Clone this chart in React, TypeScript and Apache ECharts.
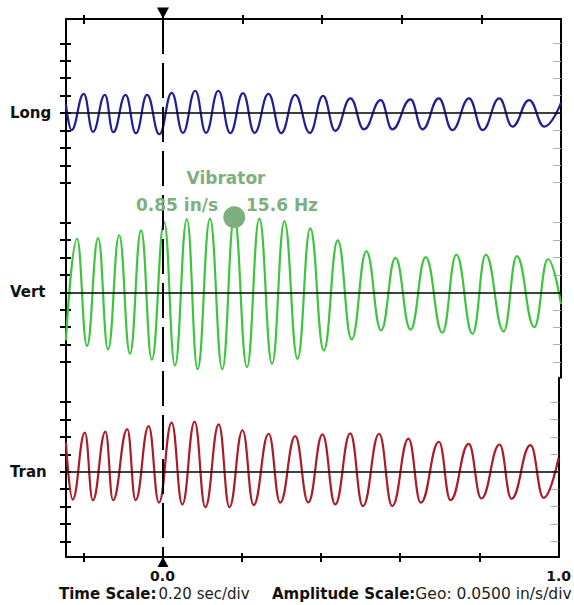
import React, { useEffect, useRef } from "react";
import * as echarts from "echarts";

// ---- data ----
const channelNames = ["Long", "Vert", "Tran"];
const channelColors = ["#1f1f96", "#3ec43e", "#aa1c28"];

const longTimes = [-0.244, -0.23, -0.199, -0.176, -0.146, -0.125, -0.094, -0.068, -0.04, -0.009, 0.022, 0.05, 0.081, 0.108, 0.139, 0.169, 0.201, 0.23, 0.265, 0.297, 0.332, 0.369, 0.402, 0.433, 0.471, 0.505, 0.547, 0.576, 0.622, 0.652, 0.693, 0.727, 0.769, 0.803, 0.845, 0.878, 0.92, 0.958, 1.0];
const longValues = [0.026, -0.049, 0.055, -0.054, 0.052, -0.055, 0.052, -0.058, 0.052, -0.061, 0.058, -0.057, 0.064, -0.057, 0.064, -0.058, 0.057, -0.057, 0.055, -0.058, 0.052, -0.057, 0.049, -0.051, 0.042, -0.047, 0.037, -0.047, 0.039, -0.047, 0.042, -0.049, 0.042, -0.049, 0.042, -0.039, 0.037, -0.039, 0.029];

const vertTimes = [-0.244, -0.216, -0.191, -0.163, -0.138, -0.11, -0.083, -0.055, -0.028, 0.003, 0.03, 0.06, 0.087, 0.118, 0.149, 0.179, 0.211, 0.242, 0.274, 0.305, 0.338, 0.37, 0.404, 0.439, 0.474, 0.511, 0.548, 0.584, 0.622, 0.66, 0.702, 0.737, 0.778, 0.811, 0.856, 0.889, 0.933, 0.967, 1.0];
const vertValues = [-0.138, 0.154, -0.154, 0.156, -0.164, 0.164, -0.176, 0.178, -0.193, 0.202, -0.21, 0.21, -0.221, 0.212, -0.221, 0.216, -0.215, 0.212, -0.205, 0.204, -0.191, 0.184, -0.167, 0.149, -0.135, 0.118, -0.109, 0.099, -0.107, 0.101, -0.116, 0.108, -0.119, 0.108, -0.112, 0.104, -0.1, 0.095, -0.034];

const tranTimes = [-0.244, -0.227, -0.196, -0.176, -0.144, -0.125, -0.089, -0.068, -0.035, -0.009, 0.023, 0.05, 0.081, 0.108, 0.142, 0.169, 0.202, 0.23, 0.268, 0.297, 0.335, 0.368, 0.404, 0.436, 0.474, 0.506, 0.547, 0.58, 0.621, 0.652, 0.698, 0.727, 0.773, 0.805, 0.851, 0.881, 0.929, 0.962, 1.0];
const tranValues = [0.084, -0.08, 0.112, -0.082, 0.115, -0.082, 0.122, -0.082, 0.131, -0.089, 0.141, -0.094, 0.144, -0.102, 0.136, -0.102, 0.119, -0.096, 0.109, -0.089, 0.102, -0.088, 0.107, -0.094, 0.11, -0.099, 0.109, -0.099, 0.095, -0.089, 0.086, -0.082, 0.08, -0.077, 0.078, -0.078, 0.076, -0.075, 0.04];

const ampTicks = [-0.2, -0.15, -0.1, -0.05, 0, 0.05, 0.1, 0.15, 0.2];
const timeTicks = [-0.2, 0, 0.2, 0.4, 0.6, 0.8];
const timeLabels = [0, 1];
const triggerTime = 0;
const vibratorPoint = [0.179, 0.2155];
const vibratorTitle = "Vibrator";
const vibratorAmp = "0.85 in/s";
const vibratorFreq = "15.6 Hz";
const timeScaleText = "0.20 sec/div";
const ampScaleText = "Geo: 0.0500 in/s/div";

// ---- layout ----
const timeMin = -0.2437;
const timeMax = 1.0;
const ampMin = -0.245;
const ampMax = 0.27;
const plotLeft = 66;
const plotTop = 19;
const plotWidth = 495;
const bandH = 538 / 3;
const FONT = "DejaVu Sans";
const GREEN_NOTE = "#7db07d";

function zip(t: number[], v: number[]) {
  return t.map((x, i) => [x, v[i]]);
}

function buildOption() {
  const grids: any[] = [];
  for (let i = 0; i < 3; i++) {
    grids.push({ left: plotLeft, top: plotTop + i * bandH, width: plotWidth, height: bandH, containLabel: false });
  }
  grids.push({ left: plotLeft, top: plotTop, width: plotWidth, height: bandH * 3 });

  const line = (show: boolean) => ({ show, onZero: false, lineStyle: { color: "#000", width: 2 } });
  const baseX = { type: "value", min: timeMin, max: timeMax, splitLine: { show: false } };
  const xAxis: any[] = [
    { ...baseX, gridIndex: 0, position: "top",
      axisLine: line(true),
      axisTick: { show: true, customValues: timeTicks, length: 4, lineStyle: { color: "#000", width: 2 } },
      axisLabel: { show: false } },
    { ...baseX, gridIndex: 0, position: "top",
      axisLine: line(false),
      axisTick: { show: true, inside: true, customValues: timeTicks, length: 5, lineStyle: { color: "#000", width: 2 } },
      axisLabel: { show: false } },
    { ...baseX, gridIndex: 1, show: false, axisLine: line(false) },
    { ...baseX, gridIndex: 2, position: "bottom",
      axisLine: line(true),
      axisTick: { show: true, customValues: timeTicks, length: 5, lineStyle: { color: "#000", width: 2 } },
      axisLabel: { show: true, customValues: timeLabels, formatter: (v: number) => v.toFixed(1),
        fontFamily: FONT, fontWeight: "bold", fontSize: 14, color: "#111", margin: 12, hideOverlap: false } },
    { ...baseX, gridIndex: 2, position: "bottom",
      axisLine: line(false),
      axisTick: { show: true, inside: true, customValues: timeTicks, length: 4, lineStyle: { color: "#000", width: 2 } },
      axisLabel: { show: false } },
    { ...baseX, gridIndex: 3, show: false, axisLine: line(false) },
  ];

  const yAxis: any[] = [];
  for (let i = 0; i < 3; i++) {
    const baseY = { type: "value", gridIndex: i, min: ampMin, max: ampMax, splitLine: { show: false } };
    yAxis.push({ ...baseY, position: "left",
      axisLine: line(true),
      axisTick: { show: true, customValues: ampTicks, length: 6, lineStyle: { color: "#000", width: 2 } },
      axisLabel: { show: true, customValues: [0], formatter: () => channelNames[i], align: "left", margin: 56,
        fontFamily: FONT, fontWeight: "bold", fontSize: 15, color: "#111" } });
    yAxis.push({ ...baseY, position: "left",
      axisLine: line(false),
      axisTick: { show: true, inside: true, customValues: ampTicks, length: 5, lineStyle: { color: "#000", width: 2 } },
      axisLabel: { show: false } });
    yAxis.push({ ...baseY, position: "right",
      axisLine: line(true),
      axisTick: { show: true, inside: true, customValues: ampTicks, length: 8, lineStyle: { color: "#b0b0b0", width: 1 } },
      axisLabel: { show: false } });
  }
  yAxis.push({ type: "value", gridIndex: 3, min: 0, max: 1, show: false, axisLine: line(false) });

  const traces = [zip(longTimes, longValues), zip(vertTimes, vertValues), zip(tranTimes, tranValues)];
  const traceX = [0, 2, 3];
  const series: any[] = traces.map((data, i) => ({
    type: "line",
    name: channelNames[i],
    xAxisIndex: traceX[i],
    yAxisIndex: i * 3,
    data,
    smooth: 0.45,
    smoothMonotone: "x",
    showSymbol: false,
    symbol: "none",
    lineStyle: { color: channelColors[i], width: 2.2 },
    z: 2,
    markLine: {
      silent: true,
      symbol: "none",
      label: { show: false },
      lineStyle: { color: "#000", width: 1.5, type: "solid" },
      data: [{ yAxis: 0 }],
    },
  }));

  series.push({
    type: "line",
    xAxisIndex: 5,
    yAxisIndex: 9,
    data: [[triggerTime, 1], [triggerTime, 0]],
    showSymbol: false,
    symbol: "none",
    lineStyle: { color: "#000", width: 2, type: [35, 9] },
    z: 4,
  });
  series.push({
    type: "scatter",
    xAxisIndex: 5,
    yAxisIndex: 9,
    clip: false,
    symbol: "triangle",
    itemStyle: { color: "#000", opacity: 1 },
    z: 5,
    data: [
      { value: [triggerTime, 1], symbolRotate: 180, symbolSize: [12, 11], symbolOffset: [0, -6] },
      { value: [triggerTime, 0], symbolSize: [11, 10], symbolOffset: [0, 5] },
    ],
  });
  series.push({
    type: "scatter",
    xAxisIndex: 2,
    yAxisIndex: 3,
    symbol: "circle",
    symbolSize: 22,
    itemStyle: { color: GREEN_NOTE, opacity: 1 },
    z: 6,
    data: [vibratorPoint],
  });

  const noteFont = `bold 17px "${FONT}"`;
  const center = { align: "center", verticalAlign: "middle", textAlign: "center", textVerticalAlign: "middle" };
  const graphic: any[] = [
    { type: "text", x: 226, y: 178, z: 10, style: { text: vibratorTitle, fill: GREEN_NOTE, font: noteFont, ...center } },
    { type: "text", x: 177, y: 205, z: 10, style: { text: vibratorAmp, fill: GREEN_NOTE, font: noteFont, ...center } },
    { type: "text", x: 282, y: 205, z: 10, style: { text: vibratorFreq, fill: GREEN_NOTE, font: noteFont, ...center } },
    { type: "text", x: 59, y: 594, z: 10, style: {
      text: `{b|Time Scale:}{r|${timeScaleText}}`,
      align: "left", verticalAlign: "middle", textAlign: "left", textVerticalAlign: "middle",
      rich: {
        b: { fontFamily: FONT, fontWeight: "bold", fontSize: 15, fill: "#111", color: "#111" },
        r: { fontFamily: FONT, fontSize: 15, fill: "#222", color: "#222", padding: [0, 0, 0, 2] },
      } } },
    { type: "text", x: 272, y: 594, z: 10, style: {
      text: `{b|Amplitude Scale:}{r|${ampScaleText}}`,
      align: "left", verticalAlign: "middle", textAlign: "left", textVerticalAlign: "middle",
      rich: {
        b: { fontFamily: FONT, fontWeight: "bold", fontSize: 15, fill: "#111", color: "#111" },
        r: { fontFamily: FONT, fontSize: 15.5, fill: "#222", color: "#222" },
      } } },
  ];

  return {
    animation: false,
    backgroundColor: "#ffffff",
    grid: grids,
    xAxis,
    yAxis,
    series,
    graphic,
  };
}

export default function App() {
  const ref = useRef<HTMLDivElement>(null);
  useEffect(() => {
    if (!ref.current) return;
    const chart = echarts.init(ref.current, null, { renderer: "svg" });
    chart.setOption(buildOption() as any);
    return () => chart.dispose();
  }, []);
  return (
    <div
      ref={ref}
      style={{ position: "fixed", left: 0, top: 0, width: 574, height: 605, background: "#fff" }}
    />
  );
}
